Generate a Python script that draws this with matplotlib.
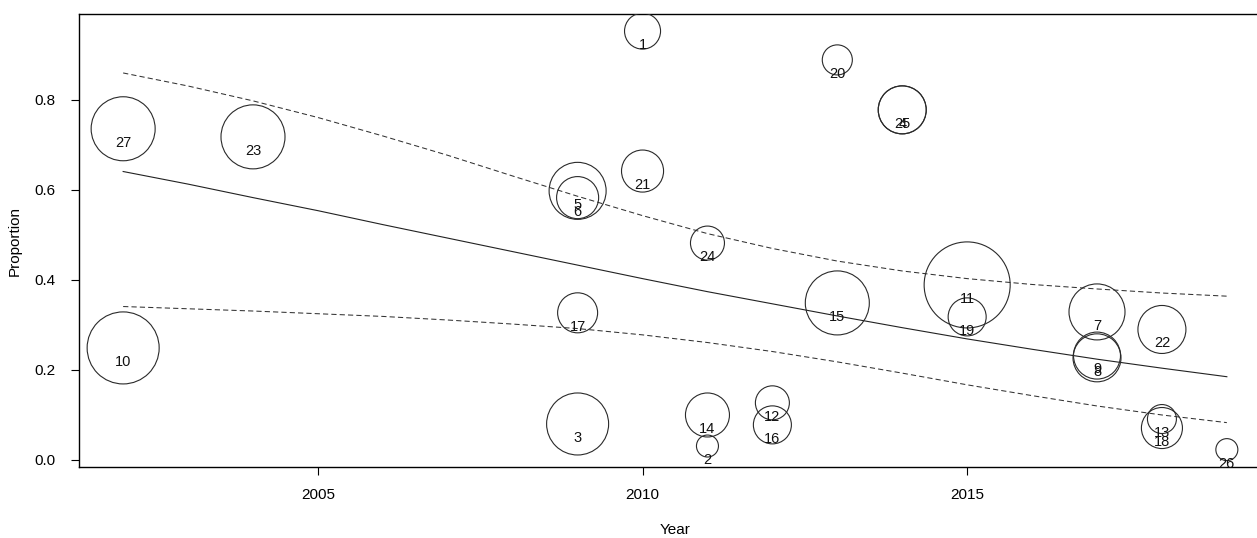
import numpy as np
import matplotlib
matplotlib.use("Agg")
import matplotlib.pyplot as plt

plt.rcParams['font.family'] = ['Liberation Sans', 'DejaVu Sans']

# study data: label, year, observed proportion, relative weight (%)
study = list(range(1, 28))
year = [2010, 2011, 2009, 2014, 2009, 2009, 2017, 2017, 2017, 2002,
        2015, 2012, 2018, 2011, 2013, 2012, 2009, 2018, 2015, 2013,
        2010, 2018, 2004, 2011, 2014, 2019, 2002]
prop = [0.953, 0.031, 0.080, 0.778, 0.598, 0.583, 0.329, 0.227, 0.232, 0.249,
        0.389, 0.127, 0.091, 0.100, 0.349, 0.078, 0.327, 0.071, 0.318, 0.889,
        0.642, 0.290, 0.718, 0.482, 0.778, 0.023, 0.736]
weight = [2.01, 0.75, 5.96, 3.57, 5.04, 2.74, 4.86, 3.57, 3.42, 8.04,
          11.47, 1.79, 1.30, 3.00, 6.35, 2.24, 2.48, 2.61, 2.24, 1.40,
          2.74, 3.57, 6.35, 1.79, 3.57, 0.75, 6.35]

# fitted meta-regression line and 95% CI
pred_year = [2002, 2003, 2004, 2005, 2006, 2007, 2008, 2009, 2010, 2011,
             2012, 2013, 2014, 2015, 2016, 2017, 2018, 2019]
pred = [0.641, 0.613, 0.583, 0.554, 0.523, 0.493, 0.463, 0.433, 0.403, 0.374,
        0.347, 0.320, 0.294, 0.269, 0.246, 0.224, 0.204, 0.185]
ci_upper = [0.860, 0.831, 0.798, 0.761, 0.720, 0.677, 0.631, 0.586, 0.543, 0.503,
            0.470, 0.442, 0.420, 0.403, 0.390, 0.380, 0.371, 0.364]
ci_lower = [0.341, 0.336, 0.331, 0.325, 0.319, 0.311, 0.302, 0.292, 0.278, 0.261,
            0.241, 0.218, 0.193, 0.167, 0.143, 0.120, 0.100, 0.083]

fig = plt.figure(figsize=(12.57, 5.38), dpi=100)
ax = fig.add_axes([79 / 1257, 71 / 538, 1192 / 1257, 453 / 538])

ax.plot(pred_year, pred, color='#222222', lw=0.8)
ax.plot(pred_year, ci_upper, color='#333333', lw=0.75, ls=(0, (5, 3)))
ax.plot(pred_year, ci_lower, color='#333333', lw=0.75, ls=(0, (5, 3)))

sizes = 334.5 * np.array(weight)
ax.scatter(year, prop, s=sizes, facecolors='none', edgecolors='#2a2a2a', linewidths=0.8, zorder=3)

for lab, x, y in zip(study, year, prop):
    ax.annotate(str(lab), (x, y), xytext=(0, -10), textcoords='offset points',
                ha='center', va='center', fontsize=10.5, color='#111111', zorder=4)

ax.set_xlim(2001.32, 2019.68)
ax.set_ylim(-0.0156, 0.991)
ax.set_xticks([2005, 2010, 2015])
ax.set_yticks([0.0, 0.2, 0.4, 0.6, 0.8])
ax.set_yticklabels(['0.0', '0.2', '0.4', '0.6', '0.8'])
ax.tick_params(axis='x', length=6, width=0.8, pad=9, labelsize=11)
ax.tick_params(axis='y', length=6, width=0.8, pad=11, labelsize=11)
for sp in ax.spines.values():
    sp.set_linewidth(1.0)
    sp.set_color('black')

ax.set_xlabel('Year', fontsize=11, labelpad=15)
ax.set_ylabel('Proportion', fontsize=11, labelpad=9)

fig.savefig('out.png', dpi=100)
